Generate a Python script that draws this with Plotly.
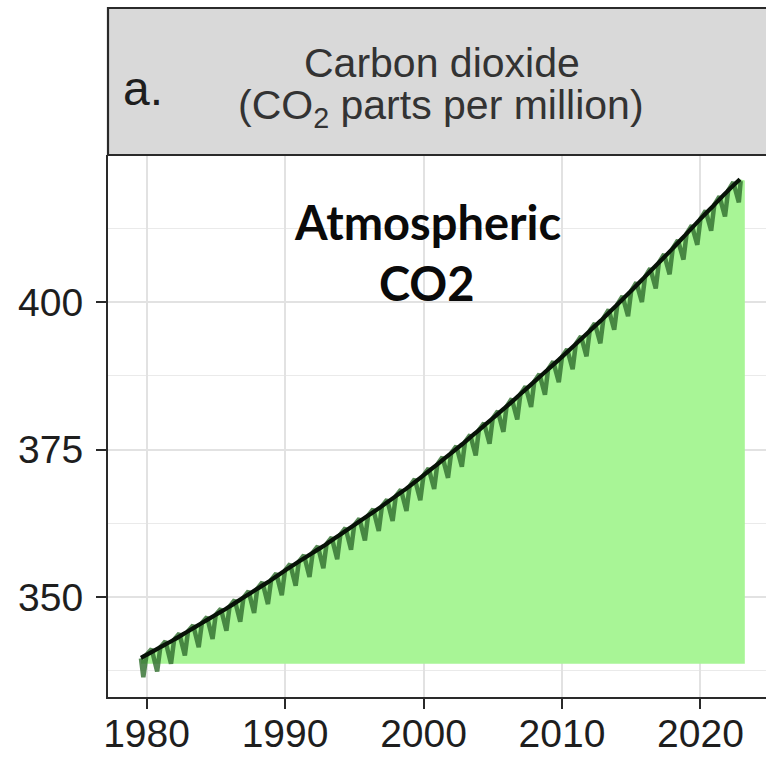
import plotly.graph_objects as go

# ---------------- data ----------------
years = list(range(1980, 2023))
# smooth CO2 trend (ppm) at the start of each year
trend_start = (1979.6, 339.7)
trend_vals = [340.2, 341.5, 342.8, 344.2, 345.6, 347.0, 348.4, 349.9, 351.4, 352.9,
              354.5, 356.0, 357.5, 359.0, 360.6, 362.2, 363.8, 365.4, 367.1, 368.8,
              370.6, 372.5, 374.4, 376.3, 378.3, 380.3, 382.3, 384.4, 386.5, 388.6,
              390.7, 392.9, 395.1, 397.3, 399.6, 401.9, 404.3, 406.7, 409.1, 411.6,
              414.1, 416.5, 418.9]
trend_end = (2022.85, 420.8)

# seasonal (monthly) record: May maxima and October minima each year
may_vals = [341.2, 342.5, 343.8, 345.2, 346.6, 348.0, 349.5, 351.0, 352.5, 354.0,
            355.6, 357.1, 358.6, 360.1, 361.7, 363.3, 364.9, 366.5, 368.2, 370.0,
            371.8, 373.7, 375.6, 377.5, 379.5, 381.5, 383.6, 385.7, 387.8, 389.9,
            392.0, 394.2, 396.4, 398.7, 401.0, 403.3, 405.7, 408.1, 410.5, 413.0,
            415.5, 417.9, 420.3]
oct_vals = [337.4, 338.7, 340.1, 341.5, 342.9, 344.3, 345.8, 347.3, 348.8, 350.3,
            351.9, 353.4, 354.9, 356.4, 358.0, 359.6, 361.2, 362.9, 364.6, 366.4,
            368.3, 370.2, 372.1, 374.0, 376.0, 378.0, 380.1, 382.2, 384.3, 386.4,
            388.6, 390.8, 393.0, 395.3, 397.6, 400.0, 402.3, 404.7, 407.2, 409.7,
            412.1, 414.5, 416.9]
season_start = [(1979.6, 339.6), (1979.77, 336.4)]
season_end = (2022.9, 420.5)

fill_base = 338.7
fill_end = (2023.2, 420.6)

x_ticks = [1980, 1990, 2000, 2010, 2020]
y_ticks = [350, 375, 400]

# ---------------- build series ----------------
tx = [trend_start[0]] + years + [trend_end[0]]
ty = [trend_start[1]] + trend_vals + [trend_end[1]]
fx = tx + [fill_end[0]]
fy = ty + [fill_end[1]]

sx = [p[0] for p in season_start]
sy = [p[1] for p in season_start]
for y, jan, may, oc in zip(years, trend_vals, may_vals, oct_vals):
    sx += [y + 0.0, y + 0.37, y + 0.77]
    sy += [jan, may, oc]
sx.append(season_end[0])
sy.append(season_end[1])

W, H = 766, 758
L, R, T, B = 108, 0, 155, 61
PW, PH = W - L - R, H - T - B

def px_x(p):
    return (p - L) / PW

def px_y(p):
    return 1 - (p - T) / PH

fig = go.Figure()
fig.add_trace(go.Scatter(x=fx, y=[fill_base] * len(fx), mode="lines",
                         line=dict(width=0), hoverinfo="skip", showlegend=False))
fig.add_trace(go.Scatter(x=fx, y=fy, mode="lines", fill="tonexty",
                         fillcolor="#a8f596", line=dict(width=0),
                         hoverinfo="skip", showlegend=False))
fig.add_trace(go.Scatter(x=sx, y=sy, mode="lines",
                         line=dict(color="rgba(50,112,48,0.82)", width=4.5),
                         showlegend=False))
fig.add_trace(go.Scatter(x=tx, y=ty, mode="lines", line_shape="spline",
                         line=dict(color="#081208", width=4.2),
                         showlegend=False))

axis_font = dict(family="Liberation Sans, Arial, sans-serif", size=39, color="#1e1e1e")

fig.update_layout(
    width=W, height=H,
    margin=dict(l=L, r=R, t=T, b=B),
    paper_bgcolor="white", plot_bgcolor="white",
    showlegend=False,
    xaxis=dict(range=[1977.22, 2024.73], tickvals=x_ticks,
               ticktext=[str(v) for v in x_ticks], automargin=False,
               showgrid=True, gridcolor="#e2e2e2", gridwidth=1.6,
               zeroline=False, showline=True, linecolor="#2a2a2a", linewidth=2.2,
               ticks="outside", ticklen=10, tickwidth=2, tickcolor="#2a2a2a",
               ticklabelstandoff=-9,
               tickfont=axis_font),
    yaxis=dict(range=[333.05, 424.92], tickvals=y_ticks,
               ticktext=[str(v) for v in y_ticks], automargin=False,
               showgrid=True, gridcolor="#e2e2e2", gridwidth=1.6,
               minor=dict(dtick=12.5, tick0=0, showgrid=True,
                          gridcolor="#eaeaea", gridwidth=1.4, ticks=""),
               zeroline=False, showline=True, linecolor="#2a2a2a", linewidth=2.2,
               ticks="outside", ticklen=10, tickwidth=2, tickcolor="#2a2a2a",
               ticklabelstandoff=5,
               tickfont=axis_font),
)

# facet strip
fig.add_shape(type="rect", xref="paper", yref="paper",
              x0=0, x1=1.02, y0=1, y1=px_y(8),
              fillcolor="#d9d9d9", line=dict(color="#2a2a2a", width=2.2),
              layer="above")

strip_font = dict(family="Liberation Sans, Arial, sans-serif", size=41, color="#333333")
fig.add_annotation(xref="paper", yref="paper", x=px_x(442), y=px_y(63),
                   text="Carbon dioxide", showarrow=False,
                   xanchor="center", yanchor="middle", font=strip_font)
fig.add_annotation(xref="paper", yref="paper", x=px_x(441), y=px_y(108),
                   text="(CO<sub>2</sub> parts per million)", showarrow=False,
                   xanchor="center", yanchor="middle", font=strip_font)
fig.add_annotation(xref="paper", yref="paper", x=px_x(121), y=px_y(88),
                   text="a.", showarrow=False, xanchor="left", yanchor="middle",
                   font=dict(family="Liberation Sans, Arial, sans-serif", size=48,
                             color="#1e1e1e"))

label_font = dict(family="Lato, Open Sans, sans-serif", size=47, color="#0a0a0a")
fig.add_annotation(xref="paper", yref="paper", x=px_x(427), y=px_y(222),
                   text="<b>Atmospheric</b>", showarrow=False,
                   xanchor="center", yanchor="middle", font=label_font)
fig.add_annotation(xref="paper", yref="paper", x=px_x(427), y=px_y(283),
                   text="<b>CO2</b>", showarrow=False,
                   xanchor="center", yanchor="middle", font=label_font)

fig.write_html("out.html")
